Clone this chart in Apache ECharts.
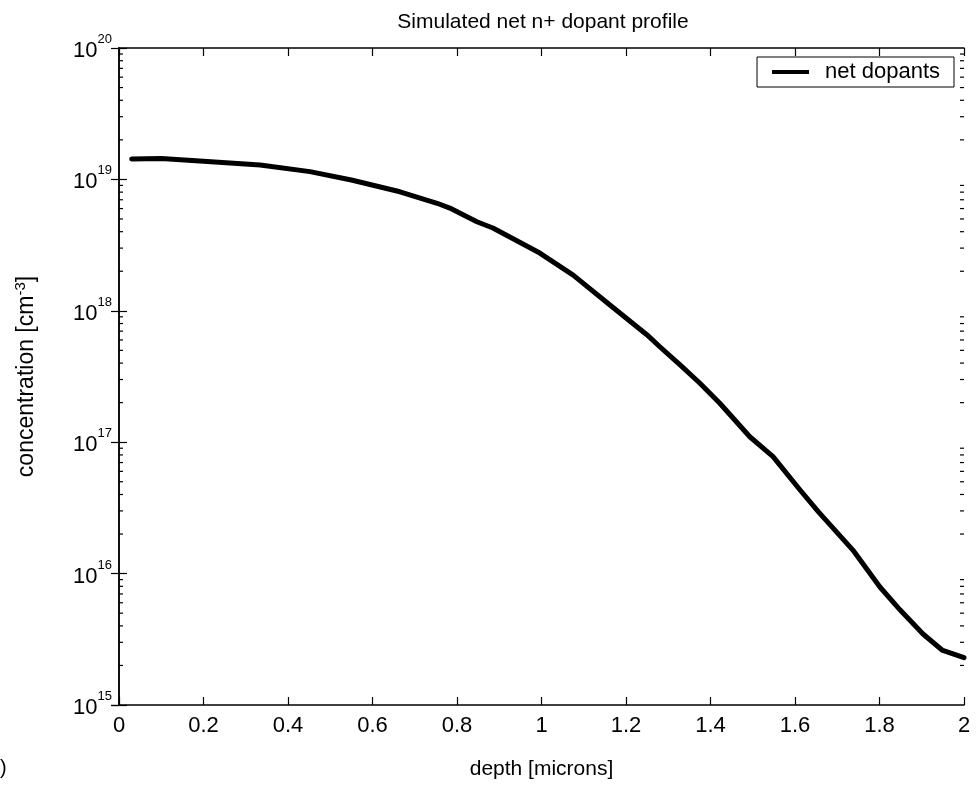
<!DOCTYPE html>
<html>
<head>
<meta charset="utf-8">
<script src="https://cdn.jsdelivr.net/npm/echarts@6/dist/echarts.min.js"></script>
<style>
html,body{margin:0;padding:0;background:#fff;}
#c{width:977px;height:785px;}
</style>
</head>
<body>
<div id="c"></div>
<script>
// depth [microns]
var depth = [0.03, 0.10, 0.20, 0.334, 0.452, 0.55, 0.665, 0.753, 0.783, 0.847, 0.885, 0.996, 1.075, 1.162, 1.25, 1.28, 1.328, 1.375, 1.422, 1.493, 1.548, 1.612, 1.655, 1.737, 1.801, 1.849, 1.903, 1.948, 2.0];
// net dopant concentration [cm^-3]
var netDopants = [1.43e19, 1.445e19, 1.374e19, 1.288e19, 1.146e19, 9.89e18, 8.05e18, 6.58e18, 6.05e18, 4.76e18, 4.27e18, 2.75e18, 1.87e18, 1.107e18, 6.55e17, 5.33e17, 3.87e17, 2.81e17, 1.98e17, 1.10e17, 7.76e16, 4.33e16, 2.96e16, 1.51e16, 7.91e15, 5.28e15, 3.47e15, 2.62e15, 2.29e15];
var xTicks = [0, 0.2, 0.4, 0.6, 0.8, 1, 1.2, 1.4, 1.6, 1.8, 2];
var yDecades = [15, 16, 17, 18, 19, 20];
var minorMult = [2, 3, 4, 5, 6, 7, 8, 9];

var FONT = '"Liberation Sans", Arial, Helvetica, sans-serif';
var lineData = depth.map(function (d, i) { return [d, netDopants[i]]; });
var minorVals = [];
for (var k = 0; k < yDecades.length - 1; k++) {
  minorMult.forEach(function (m) { minorVals.push([0, m * Math.pow(10, yDecades[k])]); });
}

var chart = echarts.init(document.getElementById('c'), null, {renderer: 'canvas'});
var axisLine = {show: true, lineStyle: {color: '#000', width: 1.5}};
chart.setOption({
  animation: false,
  backgroundColor: '#fff',
  title: {
    text: 'Simulated net n+ dopant profile',
    left: 538, top: 7, textAlign: 'center',
    textStyle: {fontFamily: FONT, fontSize: 21, fontWeight: 'normal', color: '#000'}
  },
  legend: {
    right: 23, top: 57,
    data: ['net dopants'],
    icon: 'rect', itemWidth: 37, itemHeight: 4,
    borderColor: '#000', borderWidth: 1, borderRadius: 0,
    padding: [4, 14, 4, 15],
    textStyle: {fontFamily: FONT, fontSize: 22, color: '#000', padding: [0, 0, 0, 11]}
  },
  grid: {left: 119, right: 13, top: 48, bottom: 80, containLabel: false},
  xAxis: [{
    type: 'value', min: 0, max: 2, interval: 0.2,
    name: 'depth [microns]', nameLocation: 'middle', nameGap: 54,
    nameTextStyle: {fontFamily: FONT, fontSize: 21, color: '#000'},
    axisLine: axisLine,
    axisTick: {show: true, inside: true, length: 8, lineStyle: {color: '#000', width: 1.2}},
    axisLabel: {fontFamily: FONT, fontSize: 22, color: '#000', margin: 10,
      formatter: function (v) { return String(Math.round(v * 10) / 10); }},
    splitLine: {show: false}
  }, {
    type: 'value', min: 0, max: 2, interval: 0.2, position: 'top',
    axisLine: axisLine,
    axisTick: {show: true, inside: true, length: 8, lineStyle: {color: '#000', width: 1.2}},
    axisLabel: {show: false}, splitLine: {show: false}
  }],
  yAxis: [{
    type: 'log', logBase: 10, min: 1e15, max: 1e20,
    name: 'concentration [cm{sup|-3}]', nameLocation: 'middle', nameGap: 79,
    nameTextStyle: {fontFamily: FONT, fontSize: 23, color: '#000',
      rich: {sup: {fontFamily: FONT, fontSize: 15, color: '#000', verticalAlign: 'bottom', padding: [0, 0, 12, 0]}}},
    axisLine: axisLine,
    axisTick: {show: true, inside: true, length: 8, lineStyle: {color: '#000', width: 1.2}},
    axisLabel: {
      margin: 7,
      formatter: function (v) { return '{b|10}{s|' + Math.round(Math.log10(v)) + '}'; },
      rich: {
        b: {fontFamily: FONT, fontSize: 22, color: '#000', padding: [6, 0, 0, 0]},
        s: {fontFamily: FONT, fontSize: 13, color: '#000', verticalAlign: 'bottom', padding: [0, 0, 17, 0]}
      }
    },
    splitLine: {show: false}
  }, {
    type: 'log', logBase: 10, min: 1e15, max: 1e20, position: 'right',
    axisLine: axisLine,
    axisTick: {show: true, inside: true, length: 8, lineStyle: {color: '#000', width: 1.2}},
    axisLabel: {show: false}, splitLine: {show: false}
  }],
  graphic: [{
    type: 'text', left: 0, top: 758,
    style: {text: ')', fontFamily: FONT, fontSize: 20, fill: '#000'}
  }],
  series: [{
    name: 'net dopants', type: 'line', data: lineData,
    xAxisIndex: 0, yAxisIndex: 0,
    showSymbol: false, symbol: 'none', smooth: false,
    lineStyle: {color: '#000', width: 5, join: 'round', cap: 'round'},
    itemStyle: {color: '#000'}
  }, {
    name: 'minor', type: 'custom', data: minorVals,
    xAxisIndex: 0, yAxisIndex: 0, silent: true,
    renderItem: function (params, api) {
      var p = api.coord([0, api.value(1)]);
      var cs = params.coordSys;
      var L = 4;
      return {type: 'group', children: [
        {type: 'line', shape: {x1: cs.x, y1: p[1], x2: cs.x + L, y2: p[1]}, style: {stroke: '#000', lineWidth: 1.2}},
        {type: 'line', shape: {x1: cs.x + cs.width, y1: p[1], x2: cs.x + cs.width - L, y2: p[1]}, style: {stroke: '#000', lineWidth: 1.2}}
      ]};
    }
  }]
});
</script>
</body>
</html>
